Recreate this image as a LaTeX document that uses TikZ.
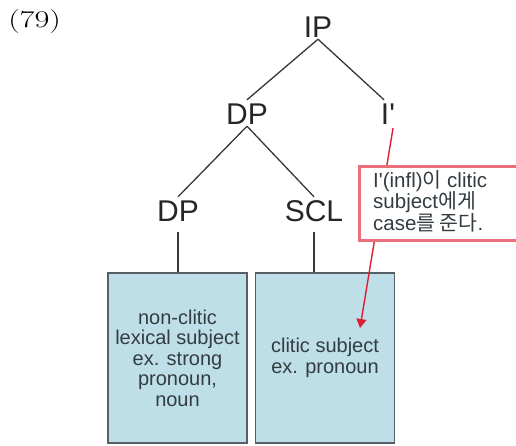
\documentclass[tikz,border=0pt]{standalone}
\usepackage{fontspec}
\newfontfamily\sansf{Liberation Sans}
\newfontfamily\krf{Noto Sans CJK KR}
\usetikzlibrary{arrows.meta}
\definecolor{boxblue}{RGB}{190,223,231}
\definecolor{boxedge}{RGB}{85,95,100}
\definecolor{calloutred}{RGB}{236,110,122}
\definecolor{arrowred}{RGB}{222,30,48}
\definecolor{treeline}{RGB}{55,55,55}
\definecolor{txtgray}{RGB}{50,60,65}
\begin{document}
\begin{tikzpicture}[x=1pt,y=-1pt,
  cat/.style={font=\sansf\fontsize{30}{30}\selectfont, text height=22pt, text depth=0pt, inner sep=2pt, text=black!85},
  branch/.style={draw=treeline, line width=1.3pt},
  leafbox/.style={draw=boxedge, line width=1.2pt, fill=boxblue, minimum width=139pt, minimum height=170pt, inner sep=0pt,
    align=center, font=\sansf\fontsize{20}{20.5}\selectfont, text=txtgray},
  callout/.style={draw=calloutred, line width=2.5pt, fill=white},
  calltext/.style={anchor=north west, align=left, inner sep=0pt, font=\sansf\fontsize{20.5}{21.5}\selectfont, text=txtgray},
  redarrow/.style={draw=arrowred, line width=1.4pt, -{Triangle[length=9pt,width=10pt]}}
]
\useasboundingbox (0,0) rectangle (516,445);
\node[anchor=west, inner sep=0pt, font=\fontsize{24}{24}\selectfont, xscale=1.35, transform shape] (num) at (8,22) {(79)};

\node[cat] (IP) at (318,26) {IP};
\node[cat] (DP1) at (247,113) {DP};
\node[cat] (Ibar) at (388,113) {I\char"27};
\node[cat] (DP2) at (178,210) {DP};
\node[cat] (SCL) at (314,210) {SCL};

\node[leafbox] (box1) at (177.5,358) {non-clitic\\lexical subject\\ex. strong\\pronoun,\\noun};
\node[leafbox] (box2) at (325,358) {clitic subject\\ex. pronoun};

\draw[branch] (IP.south) -- (DP1.north);
\draw[branch] (IP.south) -- ([xshift=-4pt]Ibar.north);
\draw[branch] (DP1.south) -- (DP2.north);
\draw[branch] (DP1.south) -- (SCL.north);
\draw[branch, shorten <=9pt] (DP2.south) -- (DP2.south |- box1.north);
\draw[branch, shorten <=9pt] (SCL.south) -- (SCL.south |- box2.north);

\coordinate (start) at ([xshift=5pt,yshift=-2pt]Ibar.south);
\coordinate (tip) at (360,328);
\draw[redarrow] (start) -- (tip);

\node[callout, minimum width=164pt, minimum height=74pt, anchor=north west] (note) at (358,165) {};
\node[calltext] (notetext) at (373,170) {I\char"27(infl){\krf 이} clitic\\subject{\krf 에게}\\case{\krf 를 준다}.};
\end{tikzpicture}
\end{document}
